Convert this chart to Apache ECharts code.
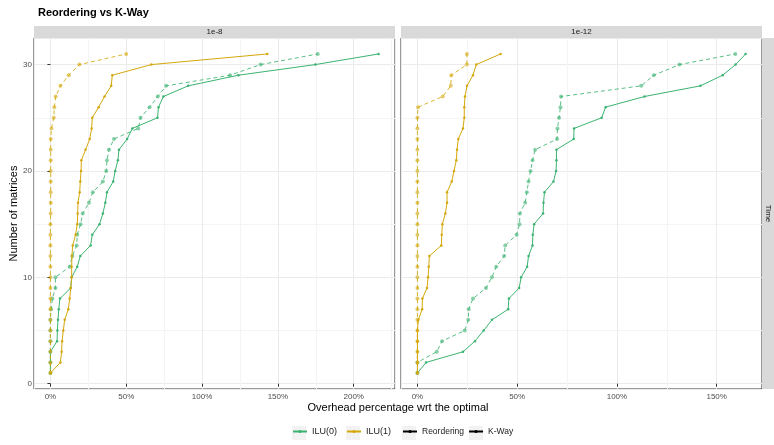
<!DOCTYPE html>
<html>
<head>
<meta charset="utf-8">
<script src="https://cdn.jsdelivr.net/npm/echarts@6/dist/echarts.min.js"></script>
<style>
html,body{margin:0;padding:0;background:#fff;}
#chart{width:774px;height:445px;}
</style>
</head>
<body>
<div id="chart"></div>
<script>
// ---------- data (overhead %, sorted; y = number of matrices) ----------
const panels = ['1e-8', '1e-12'];
const stripRight = 'Time';
const methods = ['ILU(0)', 'ILU(1)'];
const strategies = ['Reordering', 'K-Way'];

const ilu0Reorder_1e8 = [0,0,0,0,0,0,0.5,1.3,3.3,3.3,12.7,14.5,17.3,17.7,19.9,21.3,25.4,28.0,34.6,36.8,37.3,38.6,41.9,57.9,59.4,65.4,70.8,76.3,118.4,138.6,176.3];
const ilu0KWay_1e8    = [0,0,0,4.4,4.6,5.0,5.5,6.3,13.4,14.0,17.7,19.7,26.5,27.6,32.4,34.6,36.2,37.3,41.4,42.7,44.5,45.2,50.6,54.0,70.6,71.3,74.5,90.8,123.9,174.7,216.4];
const ilu1Reorder_1e8 = [0,0,0,0,0,0,0,0,0,0,0,0,0,0,0,0.2,0.2,0.2,0.2,0.2,0.2,0.2,0.2,0.7,2.2,2.6,3.5,6.6,12.1,19.1,50.0];
const ilu1KWay_1e8    = [0,6.6,7.4,7.7,8.5,9.4,11.8,12.7,13.4,14.0,14.0,14.2,14.7,16.6,17.7,18.0,18.2,19.3,19.7,20.2,20.4,23.2,25.9,27.2,27.6,31.8,35.7,40.1,40.8,66.6,143.0];

const ilu0Reorder_1e12 = [0,0,9.7,12.35,23.7,25.5,25.7,27.85,34.35,37.35,39.5,43.5,44.0,49.7,51.2,51.35,54.0,54.85,55.7,56.7,57.7,59.0,70.0,70.2,71.0,71.7,72.0,112.2,118.5,131.35,159.35];
const ilu0KWay_1e12    = [0,4.35,22.85,28.85,33.2,37.35,45.5,45.85,51.0,52.0,55.0,55.7,57.7,57.85,58.5,63.0,63.2,63.7,68.2,69.5,69.7,69.7,78.35,78.5,92.35,94.35,113.85,141.85,153.0,159.5,164.5];
const ilu1Reorder_1e12 = [0,0,0,0,0,0,0,0,0,0,0,0,0,0,0,0,0,0,0,0,0,0,0,0,0,0.3,12.7,16.7,17.0,24.8,24.8];
const ilu1KWay_1e12    = [0,0,0,0,0,0.5,2.35,2.5,4.8,5.35,5.7,6.0,12.0,12.2,12.5,14.0,14.85,14.85,17.2,18.35,19.5,19.85,20.5,22.85,23.5,23.5,23.85,24.85,27.85,29.5,41.7];

const yTicks = [0, 10, 20, 30];
// ----------------------------------------------------------------------

const GREEN = '#3cb371';
const GOLD = '#d4a80c';
const colorOf = {'ILU(0)': GREEN, 'ILU(1)': GOLD};
const FONT = 'Liberation Sans, Arial, sans-serif';

const panelData = [
  {'ILU(0)': {'Reordering': ilu0Reorder_1e8, 'K-Way': ilu0KWay_1e8},
   'ILU(1)': {'Reordering': ilu1Reorder_1e8, 'K-Way': ilu1KWay_1e8}},
  {'ILU(0)': {'Reordering': ilu0Reorder_1e12, 'K-Way': ilu0KWay_1e12},
   'ILU(1)': {'Reordering': ilu1Reorder_1e12, 'K-Way': ilu1KWay_1e12}}
];

function expandRange(arr, f) {
  const lo = Math.min(...arr), hi = Math.max(...arr);
  const pad = (hi - lo) * f;
  return [lo - pad, hi + pad];
}

const grids = [
  {left: 34, top: 38, width: 361, height: 351},
  {left: 401, top: 38, width: 361, height: 351}
];

const xAxes = [], yAxes = [], series = [];
panels.forEach((p, pi) => {
  const all = [];
  methods.forEach(m => strategies.forEach(s => all.push(...panelData[pi][m][s])));
  const xr = expandRange(all, 0.05);
  const nMax = panelData[pi]['ILU(0)']['K-Way'].length;
  const yr = expandRange([1, nMax], 0.05);
  xAxes.push({
    gridIndex: pi, type: 'value', min: xr[0], max: xr[1],
    minInterval: 50, maxInterval: 50,
    axisLine: {show: false},
    axisTick: {show: true, length: 3, lineStyle: {color: '#333'}},
    axisLabel: {formatter: v => Math.round(v) + '%', color: '#4d4d4d', fontSize: 8, fontFamily: FONT, margin: 4, showMinLabel: false, showMaxLabel: false},
    splitLine: {show: true, lineStyle: {color: '#ebebeb', width: 1}},
    minorTick: {show: false, splitNumber: 2},
    minorSplitLine: {show: true, lineStyle: {color: '#f4f4f4', width: 1}}
  });
  yAxes.push({
    gridIndex: pi, type: 'value', min: yr[0], max: yr[1],
    minInterval: 10, maxInterval: 10,
    axisLine: {show: false},
    axisTick: {show: pi === 0, length: 3, lineStyle: {color: '#333'}},
    axisLabel: {show: pi === 0, color: '#4d4d4d', fontSize: 8, fontFamily: FONT, margin: 2, showMinLabel: false, showMaxLabel: false,
      formatter: v => yTicks.includes(Math.round(v)) ? String(Math.round(v)) : ''},
    splitLine: {show: true, lineStyle: {color: '#ebebeb', width: 1}},
    minorTick: {show: false, splitNumber: 2},
    minorSplitLine: {show: true, lineStyle: {color: '#f4f4f4', width: 1}}
  });
  methods.forEach(m => strategies.forEach(s => {
    const vals = panelData[pi][m][s];
    const dashed = s === 'Reordering';
    series.push({
      name: m + ' ' + s + ' ' + p,
      type: 'line',
      xAxisIndex: pi, yAxisIndex: pi,
      data: vals.map((v, i) => [v, i + 1]),
      symbol: 'circle',
      symbolSize: dashed ? 4 : 2.5,
      showSymbol: true,
      itemStyle: {color: colorOf[m], opacity: dashed ? 0.6 : 1},
      lineStyle: {color: colorOf[m], width: 1, type: dashed ? [4, 3] : 'solid', opacity: dashed ? 0.85 : 1},
      silent: true,
      animation: false,
      z: m === 'ILU(1)' ? 3 : 2
    });
  }));
});

// legend-only series
methods.forEach(m => series.push({name: m, type: 'line', data: [], symbol: 'circle', symbolSize: 3,
  itemStyle: {color: colorOf[m]}, lineStyle: {color: colorOf[m], width: 1}, xAxisIndex: 0, yAxisIndex: 0}));
strategies.forEach(s => series.push({name: s, type: 'line', data: [], symbol: 'circle', symbolSize: 3,
  itemStyle: {color: '#000'}, lineStyle: {color: '#000', width: 1}, xAxisIndex: 0, yAxisIndex: 0}));

const legendText = {fontSize: 9, color: '#1a1a1a', fontFamily: FONT};
const legendText2 = {fontSize: 8.5, color: '#1a1a1a', fontFamily: FONT};
const option = {
  animation: false,
  backgroundColor: '#fff',
  title: {text: 'Reordering vs K-Way', left: 33, top: 2,
    textStyle: {fontSize: 11, fontWeight: 'bold', color: '#000', fontFamily: FONT}},
  grid: grids.map(g => Object.assign({show: true, borderColor: '#333', borderWidth: 1, backgroundColor: 'transparent', containLabel: false}, g)),
  xAxis: xAxes,
  yAxis: yAxes,
  legend: [
    {data: methods, left: 292, top: 427, padding: 0, itemWidth: 14, itemHeight: 4, itemGap: 9, textStyle: legendText, z: 5, selectedMode: false},
    {data: strategies, left: 402, top: 427, padding: 0, itemWidth: 14, itemHeight: 4, itemGap: 4, textStyle: legendText2, z: 5, selectedMode: false}
  ],
  graphic: [
    // strips
    {type: 'rect', shape: {x: 34, y: 26, width: 361, height: 12}, style: {fill: '#d9d9d9'}, z: 1},
    {type: 'rect', shape: {x: 401, y: 26, width: 361, height: 12}, style: {fill: '#d9d9d9'}, z: 1},
    {type: 'rect', shape: {x: 762, y: 38, width: 12, height: 351}, style: {fill: '#d9d9d9'}, z: 1},
    {type: 'text', x: 214.5, y: 32, style: {text: panels[0], fontSize: 8, fill: '#1a1a1a', fontFamily: FONT, align: 'center', verticalAlign: 'middle'}, z: 2},
    {type: 'text', x: 581.5, y: 32, style: {text: panels[1], fontSize: 8, fill: '#1a1a1a', fontFamily: FONT, align: 'center', verticalAlign: 'middle'}, z: 2},
    {type: 'text', x: 768, y: 213.5, rotation: -Math.PI / 2, style: {text: stripRight, fontSize: 8, fill: '#1a1a1a', fontFamily: FONT, align: 'center', verticalAlign: 'middle'}, z: 2},
    // axis titles
    {type: 'text', x: 398, y: 408, style: {text: 'Overhead percentage wrt the optimal', fontSize: 11, fill: '#000', fontFamily: FONT, align: 'center', verticalAlign: 'middle'}},
    {type: 'text', x: 14, y: 213.5, rotation: Math.PI / 2, style: {text: 'Number of matrices', fontSize: 11, fill: '#000', fontFamily: FONT, align: 'center', verticalAlign: 'middle'}},
    // legend key backgrounds
    {type: 'rect', shape: {x: 292, y: 426, width: 14, height: 14}, style: {fill: '#f2f2f2'}, z: 0},
    {type: 'rect', shape: {x: 346, y: 426, width: 14, height: 14}, style: {fill: '#f2f2f2'}, z: 0},
    {type: 'rect', shape: {x: 402, y: 426, width: 14, height: 14}, style: {fill: '#f2f2f2'}, z: 0},
    {type: 'rect', shape: {x: 469, y: 426, width: 14, height: 14}, style: {fill: '#f2f2f2'}, z: 0}
  ],
  series: series
};

const chart = echarts.init(document.getElementById('chart'), null, {renderer: 'canvas'});
chart.setOption(option);
</script>
</body>
</html>
